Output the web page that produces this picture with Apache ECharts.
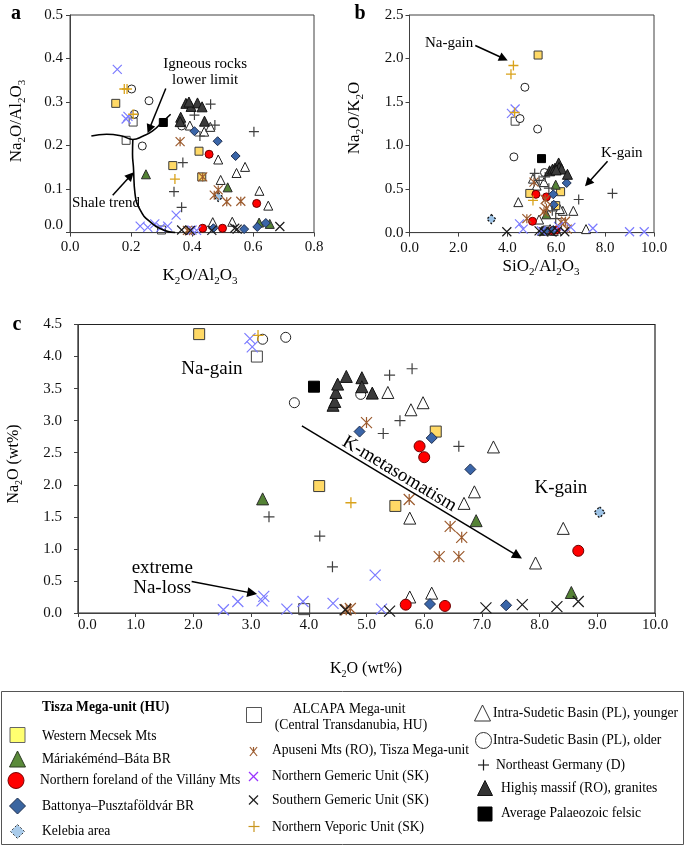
<!DOCTYPE html>
<html><head><meta charset="utf-8">
<script src="https://cdn.jsdelivr.net/npm/echarts@6/dist/echarts.min.js"></script>
<style>html,body{margin:0;padding:0;background:#fff}#c{width:685px;height:846px}</style>
</head><body><div id="c"></div>
<script>
// ---------- Panel a : K2O/Al2O3 vs Na2O/Al2O3 ----------
const westernMecsekA = [[0.15,0.297],[0.423,0.187],[0.337,0.154],[0.432,0.128]];
const mariakemendA = [[0.249,0.134],[0.517,0.104],[0.62,0.023],[0.655,0.02]];
const villanyA = [[0.456,0.18],[0.612,0.067],[0.435,0.01],[0.5,0.01]];
const battonyaA = [[0.408,0.233],[0.484,0.21],[0.543,0.176],[0.47,0.01],[0.571,0.008],[0.614,0.013],[0.642,0.022]];
const kelebiaA = [[0.486,0.082]];
const alcapaA = [[0.207,0.254],[0.184,0.212],[0.3,0.006]];
const apuseniA = [[0.361,0.209],[0.435,0.128],[0.486,0.098],[0.473,0.086],[0.514,0.071],[0.56,0.072],[0.385,0.005],[0.392,0.004]];
const nGemericA = [[0.155,0.375],[0.19,0.267],[0.184,0.261],[0.23,0.015],[0.255,0.012],[0.278,0.02],[0.298,0.012],[0.32,0.015],[0.348,0.04],[0.4,0.006],[0.415,0.005]];
const sGemericA = [[0.366,0.006],[0.395,0.005],[0.465,0.005],[0.54,0.01],[0.548,0.008],[0.688,0.014]];
const nVeporicA = [[0.178,0.33],[0.187,0.33],[0.344,0.123],[0.207,0.272]];
const isYoungerA = [[0.393,0.246],[0.44,0.232],[0.46,0.243],[0.486,0.168],[0.546,0.137],[0.574,0.151],[0.494,0.121],[0.621,0.096],[0.65,0.062],[0.532,0.025],[0.468,0.024]];
const isOlderA = [[0.202,0.33],[0.259,0.303],[0.211,0.272],[0.237,0.199],[0.366,0.245]];
const neGermanyA = [[0.461,0.295],[0.408,0.27],[0.475,0.247],[0.426,0.222],[0.603,0.232],[0.37,0.161],[0.341,0.094],[0.366,0.058]];
const highisA = [[0.38,0.297],[0.397,0.29],[0.418,0.298],[0.433,0.289],[0.363,0.265],[0.361,0.255],[0.441,0.256],[0.39,0.3]];
const avgFelsicA = [[0.306,0.253]];
const igneousLimit = [[0.07,0.222],[0.12,0.226],[0.17,0.222],[0.206,0.214],[0.24,0.222],[0.27,0.233],[0.3,0.252],[0.33,0.272]];
const shaleTrend = [[0.206,0.214],[0.205,0.18],[0.208,0.15],[0.213,0.09],[0.23,0.052],[0.262,0.025],[0.306,0.006],[0.345,0]];

// ---------- Panel b : SiO2/Al2O3 vs Na2O/K2O ----------
const westernMecsekB = [[5.26,2.04],[4.92,0.45],[6.18,0.47],[5.98,0.31]];
const mariakemendB = [[5.98,0.55],[5.6,0.21],[5.42,0.02]];
const villanyB = [[5.17,0.44],[5.6,0.41],[5.03,0.13],[6.0,0.03],[5.85,0.02]];
const battonyaB = [[6.43,0.57],[5.88,0.44],[5.9,0.32],[5.88,0.03],[5.55,0.02]];
const kelebiaB = [[3.35,0.155]];
const alcapaB = [[4.32,1.28],[5.62,0.03]];
const apuseniB = [[5.09,0.58],[5.55,0.38],[5.6,0.28],[5.5,0.24],[4.8,0.16],[6.38,0.13],[6.45,0.04],[6.2,0.12]];
const nGemericB = [[4.17,1.37],[4.32,1.42],[4.5,0.1],[4.65,0.04],[5.4,0.02],[6.1,0.07],[6.6,0.06],[7.5,0.05],[9.0,0.01],[9.6,0.01]];
const sGemericB = [[3.98,0.01],[5.3,0.02],[5.5,0.01],[5.8,0.01],[6.05,0.02],[6.35,0.01]];
const nVeporicB = [[4.25,1.92],[4.15,1.82],[5.05,0.37],[4.3,1.38]];
const isYoungerB = [[4.45,0.35],[5.05,0.62],[5.2,0.54],[5.3,0.15],[6.27,0.25],[6.7,0.25],[7.22,0.04],[6.15,0.27],[5.9,0.02],[5.75,0.04],[5.5,0.58]];
const isOlderB = [[4.72,1.67],[4.52,1.31],[5.24,1.19],[4.27,0.87],[5.52,0.69]];
const neGermanyB = [[5.12,0.68],[5.55,0.64],[5.7,0.51],[6.92,0.38],[8.3,0.45],[5.98,0.16],[5.84,0.25],[5.3,0.6]];
const highisB = [[5.73,0.71],[5.85,0.73],[5.95,0.74],[6.1,0.8],[6.12,0.75],[6.22,0.73],[6.46,0.67],[6.0,0.72]];
const avgFelsicB = [[5.4,0.85]];

// ---------- Panel c : K2O vs Na2O (wt%) ----------
const westernMecsekC = [[2.1,4.35],[4.18,1.98],[6.2,2.83],[5.5,1.67]];
const mariakemendC = [[3.2,1.78],[6.9,1.44],[8.55,0.32]];
const villanyC = [[5.92,2.6],[6.0,2.43],[8.67,0.97],[5.68,0.13],[6.36,0.11]];
const battonyaC = [[4.88,2.83],[6.13,2.73],[6.8,2.24],[6.1,0.14],[7.42,0.12]];
const kelebiaC = [[9.04,1.57]];
const alcapaC = [[3.1,4.0],[3.92,0.06]];
const apuseniC = [[5.0,2.97],[5.74,1.77],[6.45,1.35],[6.65,1.18],[6.26,0.88],[6.6,0.88],[4.65,0.05],[4.72,0.07]];
const nGemericC = [[2.98,4.28],[3.02,4.15],[3.22,0.26],[3.19,0.19],[2.52,0.05],[2.77,0.18],[3.62,0.06],[3.9,0.18],[4.42,0.15],[5.15,0.59],[5.26,0.06]];
const sGemericC = [[4.63,0.05],[5.4,0.03],[7.07,0.08],[7.7,0.13],[8.3,0.1],[8.67,0.18]];
const nVeporicC = [[3.12,4.33],[4.73,1.72]];
const isYoungerC = [[5.37,3.44],[5.77,3.17],[5.98,3.28],[7.2,2.59],[6.87,1.89],[6.69,1.71],[5.75,1.48],[8.41,1.32],[7.93,0.78],[5.75,0.25],[6.13,0.31]];
const isOlderC = [[3.2,4.27],[3.6,4.3],[3.75,3.28],[4.9,3.41]];
const neGermanyC = [[3.31,1.5],[4.19,1.2],[4.41,0.72],[5.4,3.71],[5.79,3.81],[5.58,3.0],[5.29,2.8],[6.6,2.6]];
const highisC = [[4.42,3.24],[4.45,3.3],[4.47,3.44],[4.5,3.57],[4.65,3.69],[4.92,3.67],[4.92,3.53],[5.1,3.43]];
const avgFelsicC = [[4.09,3.53]];

// ---------- Annotation arrows (data space: [from, to]) ----------
const arrowsA = [[[0.314,0.331],[0.26,0.238]], [[0.14,0.086],[0.199,0.131]]];
const arrowsB = [[[2.69,2.15],[3.85,2.0]], [[8.1,0.82],[7.3,0.57]]];
const arrowsC = [[[3.88,2.92],[7.62,0.89]], [[1.97,0.49],[3.02,0.31]]];

// ---------- Axis ticks ----------
const ticksA = {x:[0,0.8,0.2], y:[0,0.5,0.1]};
const ticksB = {x:[0,10,2], y:[0,2.5,0.5]};
const ticksC = {x:[0,10,1], y:[0,4.5,0.5]};

const FF = '"Liberation Serif","Times New Roman",Times,serif';
const X = 'path://M0,0L10,10M10,0L0,10';
const PLUS = 'path://M5,0L5,10M0,5L10,5';
const STAR = 'path://M0,0L10,10M10,0L0,10M5,0L5,10';
const NONE = 'rgba(0,0,0,0)';

const STYLE = {
  ALC:{sym:'rect', fill:NONE, stroke:'#404040', bw:1, s:[8,11]},
  ISY:{sym:'triangle', fill:'#ffffff', stroke:'#222', bw:1, s:[9,12]},
  ISO:{sym:'circle', fill:'#ffffff', stroke:'#222', bw:1, s:[8,10]},
  WM:{sym:'rect', fill:'#FFD966', stroke:'#3a3a3a', bw:1, s:[8,11]},
  MB:{sym:'triangle', fill:'#548235', stroke:'#2a2a2a', bw:1, s:[9,12]},
  VIL:{sym:'circle', fill:'#FF0000', stroke:'#6b0000', bw:1, s:[8,11]},
  BAT:{sym:'diamond', fill:'#3A65A8', stroke:'#1f2f50', bw:1, s:[9,11]},
  KEL:{sym:'diamond', fill:'#9DC3E6', stroke:'#111', bw:1.3, dash:true, s:[9,11]},
  APU:{sym:STAR, fill:NONE, stroke:'#9C5B2E', bw:1.2, s:[9,11]},
  NGE:{sym:X, fill:NONE, stroke:'#7B7BFF', bw:1.2, s:[9,11]},
  SGE:{sym:X, fill:NONE, stroke:'#1a1a1a', bw:1.2, s:[9,11]},
  NVE:{sym:PLUS, fill:NONE, stroke:'#D9A21B', bw:1.3, s:[10,11]},
  NEG:{sym:PLUS, fill:NONE, stroke:'#404040', bw:1.2, s:[10,11]},
  HIG:{sym:'triangle', fill:'#3b3b3b', stroke:'#111', bw:1, s:[10,12]},
  APF:{sym:'rect', fill:'#000', stroke:'#000', bw:1, s:[8,11]}
};
const DATA = {
  ALC:[alcapaA,alcapaB,alcapaC], ISY:[isYoungerA,isYoungerB,isYoungerC], ISO:[isOlderA,isOlderB,isOlderC],
  WM:[westernMecsekA,westernMecsekB,westernMecsekC], MB:[mariakemendA,mariakemendB,mariakemendC],
  VIL:[villanyA,villanyB,villanyC], BAT:[battonyaA,battonyaB,battonyaC], KEL:[kelebiaA,kelebiaB,kelebiaC],
  APU:[apuseniA,apuseniB,apuseniC], NGE:[nGemericA,nGemericB,nGemericC], SGE:[sGemericA,sGemericB,sGemericC],
  NVE:[nVeporicA,nVeporicB,nVeporicC], NEG:[neGermanyA,neGermanyB,neGermanyC], HIG:[highisA,highisB,highisC],
  APF:[avgFelsicA,avgFelsicB,avgFelsicC]
};
const ORDER = ['ALC','ISY','ISO','WM','MB','VIL','BAT','KEL','APU','NGE','SGE','NVE','NEG','HIG','APF'];

const chart = echarts.init(document.getElementById('c'), null, {renderer:'canvas'});

const AX = '#404040';
function xAxisDef(p, t, extra){
  return {
    type:'value', gridIndex:p, min:t[0], max:t[1], interval:t[2],
    axisLine:{show:true, onZero:false, lineStyle:{color:AX, width:1}},
    axisTick:{show:true, inside:false, length:4, lineStyle:{color:AX}},
    splitLine:{show:false},
    axisLabel:Object.assign({color:'#111', fontFamily:FF, fontSize:15, margin:6, formatter:v=>v.toFixed(1)}, extra||{})
  };
}
function yAxisDef(p, t, extra){
  return {
    type:'value', gridIndex:p, min:t[0], max:t[1], interval:t[2],
    axisLine:{show:true, onZero:false, lineStyle:{color:AX, width:1}},
    axisTick:{show:true, inside:false, length:4, lineStyle:{color:AX}},
    splitLine:{show:false},
    axisLabel:Object.assign({color:'#111', fontFamily:FF, fontSize:15, margin:7, formatter:v=>v.toFixed(1)}, extra||{})
  };
}

const series = [];
for (let p = 0; p < 3; p++) {
  for (const k of ORDER) {
    const st = STYLE[k];
    series.push({
      type:'scatter', xAxisIndex:p, yAxisIndex:p, data:DATA[k][p],
      symbol:st.sym, symbolSize:st.s[p < 2 ? 0 : 1], silent:true,
      itemStyle:{color:st.fill, borderColor:st.stroke, borderWidth:st.bw, borderType:st.dash ? [2,2] : 'solid', opacity:1}
    });
  }
}
for (const curve of [igneousLimit, shaleTrend]) {
  series.push({type:'line', xAxisIndex:0, yAxisIndex:0, data:curve, smooth:0.5, showSymbol:false, symbol:'none', silent:true,
    lineStyle:{color:'#000', width:1.6}, z:3});
}
[arrowsA, arrowsB, arrowsC].forEach((arr, p) => {
  series.push({type:'lines', coordinateSystem:'cartesian2d', xAxisIndex:p, yAxisIndex:p, silent:true,
    symbol:['none','triangle'], symbolSize:p === 2 ? 10 : 9,
    lineStyle:{color:'#000', width:1.5, opacity:1, curveness:0},
    data:arr.map(a => ({coords:a})), z:4});
});

chart.setOption({
  animation:false,
  backgroundColor:'#fff',
  grid:[
    {left:70, top:15, width:244, height:217.6, show:true, borderColor:AX, borderWidth:1},
    {left:409.5, top:15, width:244.5, height:217.6, show:true, borderColor:AX, borderWidth:1},
    {left:78, top:324.5, width:577, height:288.5, show:true, borderColor:'#222', borderWidth:1.2}
  ],
  xAxis:[
    xAxisDef(0, ticksA.x, {margin:7}),
    xAxisDef(1, ticksB.x, {margin:8}),
    xAxisDef(2, ticksC.x, {margin:5, alignMinLabel:'left'})
  ],
  yAxis:[
    yAxisDef(0, ticksA.y, {margin:7, verticalAlignMinLabel:'bottom'}),
    yAxisDef(1, ticksB.y, {margin:6}),
    yAxisDef(2, ticksC.y, {margin:16})
  ],
  series
});

// ---------- Graphic annotations ----------
function px(p, x, y){ return chart.convertToPixel({gridIndex:p}, [x, y]); }
function txt(x, y, text, size, opts){
  opts = opts || {};
  return {type:'text', x, y, rotation:opts.rot || 0, z:100, silent:true,
    style:Object.assign({text, fontSize:size, fontFamily:FF, fontWeight:opts.bold ? 'bold' : 'normal', fill:'#000',
      align:opts.align || 'center', textAlign:opts.align || 'center', verticalAlign:'middle', textVerticalAlign:'middle'},
      opts.rich ? {rich:opts.rich} : {})};
}
function dataTxt(p, x, y, text, size, rot){ const q = px(p, x, y); return txt(q[0], q[1], text, size, {rot}); }
function richDef(n){ return {n:{fontSize:n, fontFamily:FF, fill:'#000'}, s:{fontSize:Math.round(n*0.65), fontFamily:FF, fill:'#000', padding:[Math.round(n*0.6),0,0,0]}}; }

const g = [];
// panel letters
g.push(txt(16, 14, 'a', 20, {bold:true}));
g.push(txt(360, 14, 'b', 20, {bold:true}));
g.push(txt(17, 325, 'c', 20, {bold:true}));
// axis titles
g.push(txt(17, 121, '{n|Na}{s|2}{n|O/Al}{s|2}{n|O}{s|3}', 17, {rot:Math.PI/2, rich:richDef(17)}));
g.push(txt(200, 276, '{n|K}{s|2}{n|O/Al}{s|2}{n|O}{s|3}', 17, {rich:richDef(17)}));
g.push(txt(355, 118, '{n|Na}{s|2}{n|O/K}{s|2}{n|O}', 17, {rot:Math.PI/2, rich:richDef(17)}));
g.push(txt(541, 267, '{n|SiO}{s|2}{n|/Al}{s|2}{n|O}{s|3}', 17, {rich:richDef(17)}));
g.push(txt(14, 464, '{n|Na}{s|2}{n|O (wt%)}', 16, {rot:Math.PI/2, rich:richDef(16)}));
g.push(txt(366, 669, '{n|K}{s|2}{n|O (wt%)}', 16, {rich:richDef(16)}));
// annotations
g.push(dataTxt(0, 0.443, 0.388, 'Igneous rocks', 15));
g.push(dataTxt(0, 0.443, 0.35, 'lower limit', 15));
g.push(dataTxt(0, 0.118, 0.067, 'Shale trend', 15));
g.push(dataTxt(1, 1.62, 2.18, 'Na-gain', 15));
g.push(dataTxt(1, 8.68, 0.91, 'K-gain', 15));
g.push(dataTxt(2, 2.32, 3.8, 'Na-gain', 19));
g.push(dataTxt(2, 8.37, 1.95, 'K-gain', 19));
g.push(dataTxt(2, 1.46, 0.70, 'extreme', 19));
g.push(dataTxt(2, 1.46, 0.386, 'Na-loss', 19));
(function(){
  const a = px(2, arrowsC[0][0][0], arrowsC[0][0][1]);
  const b = px(2, arrowsC[0][1][0], arrowsC[0][1][1]);
  const ang = Math.atan2(b[1]-a[1], b[0]-a[0]);
  const q = px(2, 5.57, 2.17);
  g.push(txt(q[0], q[1], 'K-metasomatism', 19, {rot:-ang}));
})();

// ---------- Legend ----------
function mk(kind, cx, cy, s, fill, stroke, lw, dash){
  const st = {fill, stroke, lineWidth:lw || 1};
  if (dash) st.lineDash = [2,2];
  const ln = (x1,y1,x2,y2) => ({type:'line', shape:{x1,y1,x2,y2}, style:{stroke, lineWidth:lw || 1}, z:100});
  const h = s/2;
  switch(kind){
    case 'rect': return {type:'rect', shape:{x:cx-h, y:cy-h, width:s, height:s}, style:st, z:100};
    case 'circle': return {type:'circle', shape:{cx, cy, r:h}, style:st, z:100};
    case 'triangle': return {type:'polygon', shape:{points:[[cx,cy-h],[cx+h,cy+h],[cx-h,cy+h]]}, style:st, z:100};
    case 'diamond': return {type:'polygon', shape:{points:[[cx,cy-h],[cx+h,cy],[cx,cy+h],[cx-h,cy]]}, style:st, z:100};
    case 'x': return {type:'group', children:[ln(cx-h,cy-h,cx+h,cy+h), ln(cx+h,cy-h,cx-h,cy+h)]};
    case 'plus': return {type:'group', children:[ln(cx,cy-h,cx,cy+h), ln(cx-h,cy,cx+h,cy)]};
    case 'star': return {type:'group', children:[ln(cx-h*0.8,cy-h,cx+h*0.8,cy+h), ln(cx+h*0.8,cy-h,cx-h*0.8,cy+h), ln(cx,cy-h,cx,cy+h*0.2)]};
  }
}
g.push({type:'rect', shape:{x:1.5, y:691.5, width:682, height:153}, style:{fill:'none', stroke:'#555', lineWidth:1}, z:99});
const LF = 13.6;
g.push(txt(42, 707, 'Tisza Mega-unit (HU)', LF, {bold:true, align:'left'}));
g.push(mk('rect', 17.5, 735, 15, '#FFFF70', '#666', 1));
g.push(txt(42, 736, 'Western Mecsek Mts', LF, {align:'left'}));
g.push(mk('triangle', 17.5, 759, 16, '#5A8A3A', '#2a3a20', 1));
g.push(txt(42, 759, 'Máriakéménd–Báta BR', LF, {align:'left'}));
g.push(mk('circle', 16, 780.5, 16, '#FF0000', '#7a0000', 1));
g.push(txt(40, 780.5, 'Northern foreland of the Villány Mts', LF, {align:'left'}));
g.push(mk('diamond', 17.5, 806, 16, '#3A65A0', '#1f3050', 1));
g.push(txt(42, 806, 'Battonya–Pusztaföldvár BR', LF, {align:'left'}));
g.push(mk('diamond', 17.5, 831.5, 14, '#A9CBEA', '#333', 1, true));
g.push(txt(42, 831.5, 'Kelebia area', LF, {align:'left'}));

g.push(mk('rect', 254, 715, 15, '#fff', '#555', 1));
g.push(txt(349, 709, 'ALCAPA Mega-unit', LF));
g.push(txt(351, 725, '(Central Transdanubia, HU)', LF));
g.push(mk('star', 253.5, 751.5, 9, null, '#9C5B2E', 1.2));
g.push(txt(272, 750, 'Apuseni Mts (RO), Tisza Mega-unit', LF, {align:'left'}));
g.push(mk('x', 253.5, 776.5, 9, null, '#9933FF', 1.2));
g.push(txt(272, 776.5, 'Northern Gemeric Unit (SK)', LF, {align:'left'}));
g.push(mk('x', 253.5, 800, 9, null, '#222', 1.2));
g.push(txt(272, 800.5, 'Southern Gemeric Unit (SK)', LF, {align:'left'}));
g.push(mk('plus', 254, 826.5, 11, null, '#C8951E', 1.2));
g.push(txt(272, 827, 'Northern Veporic Unit (SK)', LF, {align:'left'}));

g.push(mk('triangle', 482.5, 713, 16, '#fff', '#333', 1));
g.push(txt(493, 713, 'Intra-Sudetic Basin (PL), younger', LF, {align:'left'}));
g.push(mk('circle', 483.5, 740.5, 16, '#fff', '#333', 1));
g.push(txt(493, 740.5, 'Intra-Sudetic Basin (PL), older', LF, {align:'left'}));
g.push(mk('plus', 483.5, 765, 11, null, '#222', 1.2));
g.push(txt(496, 765, 'Northeast Germany (D)', LF, {align:'left'}));
g.push(mk('triangle', 485, 788, 15, '#333', '#111', 1));
g.push(txt(501, 788, 'Highiș massif (RO), granites', LF, {align:'left'}));
g.push(mk('rect', 485, 814, 14, '#000', '#000', 1));
g.push(txt(501, 813.5, 'Average Palaeozoic felsic', LF, {align:'left'}));

chart.setOption({graphic:g});
</script>
</body></html>
